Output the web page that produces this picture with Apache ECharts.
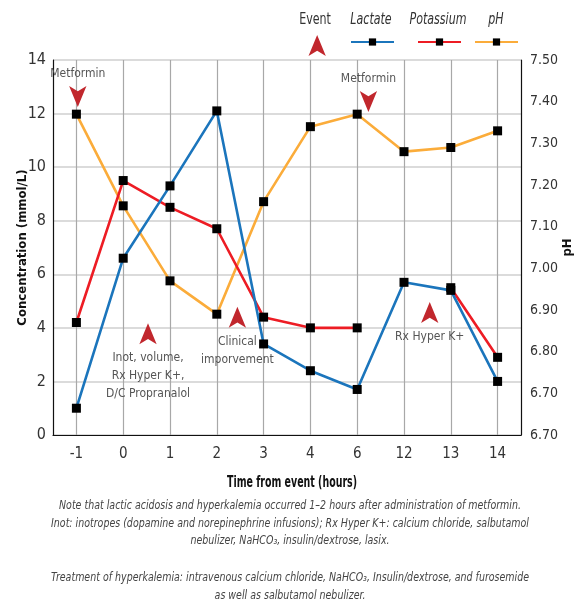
<!DOCTYPE html>
<html><head><meta charset="utf-8">
<script src="https://cdn.jsdelivr.net/npm/echarts@6/dist/echarts.min.js"></script>
<style>html,body{margin:0;padding:0;background:#fff}#c{width:578px;height:605px}</style>
</head><body><div id="c"></div>
<script>
var categories = ['-1','0','1','2','3','4','6','12','13','14'];
var lactate   = [1.0, 6.6, 9.3, 12.1, 3.4, 2.4, 1.7, 5.7, 5.4, 2.0];
var potassium = [4.2, 9.5, 8.5, 7.7, 4.4, 4.0, 4.0, null, 5.5, 2.9];
var pH        = [7.37, 7.15, 6.97, 6.89, 7.16, 7.34, 7.37, 7.28, 7.29, 7.33];
var rightTickLabels = ['6.70','6.70','6.80','6.90','7.00','7.10','7.20','7.30','7.40','7.50'];
// events: position in category-index units, level of the arrow tip, label, pointing down?
var eventPos   = [0.03, 1.53, 3.44, 6.24, 7.55];
var eventLevel = [12.25, 4.17, 4.79, 12.06, 4.97];
var eventText  = ['Metformin', 'Inot, volume,\nRx Hyper K+,\nD/C Propranalol', 'Clinical\nimporvement', 'Metformin', 'Rx Hyper K+'];
var eventDown  = [true, false, false, true, false];
var legendNames = ['Event', 'Lactate', 'Potassium', 'pH'];
var notes = [
  'Note that lactic acidosis and hyperkalemia occurred 1\u20132 hours after administration of metformin.',
  'Inot: inotropes (dopamine and norepinephrine infusions); Rx Hyper K+: calcium chloride, salbutamol',
  'nebulizer, NaHCO\u2083, insulin/dextrose, lasix.',
  'Treatment of hyperkalemia: intravenous calcium chloride, NaHCO\u2083, Insulin/dextrose, and furosemide',
  'as well as salbutamol nebulizer.'
];

var FONT = "'DejaVu Sans Condensed', 'Liberation Sans Narrow', sans-serif";
var BLUE = '#1b75bc', RED = '#ed1c24', ORANGE = '#fbac3a', ARROW = '#c1272d';

var chart = echarts.init(document.getElementById('c'), null, {renderer: 'canvas'});

function lineSeries(name, data, color, yIndex) {
  return {
    name: name, type: 'line', data: data, xAxisIndex: 0, yAxisIndex: yIndex,
    symbol: 'rect', symbolSize: 9, connectNulls: false,
    lineStyle: {color: color, width: 2.6},
    itemStyle: {color: '#000'},
    emphasis: {disabled: true}
  };
}

var eventData = eventPos.map(function (x, i) {
  return {
    value: [x, eventLevel[i]],
    symbolRotate: eventDown[i] ? 180 : 0,
    label: {
      show: true, formatter: eventText[i],
      position: eventDown[i] ? 'top' : 'bottom',
      distance: eventDown[i] ? 3.5 : 5
    }
  };
});

var legendCenters = [315, 371, 438, 496];
var legendLineLeft = [350, 417, 474];
var noteY = [506, 524, 541, 578, 596];

function emptyFmt() { return ''; }

var option = {
  animation: false,
  textStyle: {fontFamily: FONT},
  grid: {left: 53, right: 57, top: 60, bottom: 170, containLabel: false, outerBoundsMode: 'none'},
  legend: [
    {data: ['Event'], left: 308.5, top: 24.5, itemWidth: 13, itemHeight: 21, formatter: emptyFmt, itemGap: 0, padding: 0, selectedMode: false},
    {data: ['Lactate'], left: legendLineLeft[0], top: 37.5, itemWidth: 43, itemHeight: 9, formatter: emptyFmt, itemGap: 0, padding: 0, selectedMode: false},
    {data: ['Potassium'], left: legendLineLeft[1], top: 37.5, itemWidth: 43, itemHeight: 9, formatter: emptyFmt, itemGap: 0, padding: 0, selectedMode: false},
    {data: ['pH'], left: legendLineLeft[2], top: 37.5, itemWidth: 43, itemHeight: 9, formatter: emptyFmt, itemGap: 0, padding: 0, selectedMode: false}
  ],
  xAxis: [
    {
      type: 'category', data: categories, boundaryGap: true,
      axisLine: {onZero: false, lineStyle: {color: '#111', width: 1.2}},
      axisTick: {show: false},
      axisLabel: {fontSize: 15, color: '#333', margin: 12, fontFamily: FONT},
      splitLine: {show: true, alignWithLabel: true, lineStyle: {color: '#a8a8a8', width: 1.2}}
    },
    {type: 'value', min: -0.5, max: 9.5, show: false}
  ],
  yAxis: [
    {
      type: 'value', min: 0, max: 14, interval: 2, position: 'left',
      name: 'Concentration (mmol/L)', nameLocation: 'middle', nameGap: 24, nameRotate: 90, nameMoveOverlap: false,
      nameTextStyle: {fontSize: 13, fontWeight: 'bold', color: '#111', fontFamily: FONT},
      axisLine: {show: true, onZero: false, lineStyle: {color: '#111', width: 1.2}},
      axisTick: {show: false},
      axisLabel: {fontSize: 16, color: '#333', margin: 7, fontFamily: FONT},
      splitLine: {show: true, lineStyle: {color: '#cfcfcf', width: 1.5}}
    },
    {
      type: 'value', min: 6.6, max: 7.5, interval: 0.1, position: 'right',
      name: 'pH', nameLocation: 'middle', nameGap: 40, nameRotate: 90, nameMoveOverlap: false,
      nameTextStyle: {fontSize: 13, fontWeight: 'bold', color: '#111', fontFamily: FONT},
      axisLine: {show: true, onZero: false, lineStyle: {color: '#111', width: 1.2}},
      axisTick: {show: false},
      axisLabel: {fontSize: 14, color: '#333', margin: 9, fontFamily: FONT,
        formatter: function (v) { return rightTickLabels[Math.round((v - 6.6) * 10)]; }},
      splitLine: {show: false}
    }
  ],
  series: [
    {
      name: 'Event', type: 'scatter', xAxisIndex: 1, yAxisIndex: 0,
      symbol: 'arrow', symbolSize: [13, 21], symbolRotate: 0,
      itemStyle: {color: ARROW, opacity: 1},
      label: {color: '#555', fontSize: 12, lineHeight: 18, fontFamily: FONT, align: 'center'},
      data: eventData, z: 5, emphasis: {disabled: true}
    },
    lineSeries('pH', pH, ORANGE, 1),
    lineSeries('Potassium', potassium, RED, 0),
    lineSeries('Lactate', lactate, BLUE, 0)
  ],
  graphic: legendNames.map(function (n, i) {
    return {type: 'text', x: legendCenters[i], y: 20, scaleX: 0.82, silent: true,
      style: {text: n, fill: '#333', font: (i === 0 ? 'normal ' : 'italic ') + '15px ' + FONT,
        textAlign: 'center', textVerticalAlign: 'middle'}};
  }).concat([
    {type: 'text', x: 292, y: 483, scaleX: 0.7, silent: true,
      style: {text: 'Time from event (hours)', fill: '#111', font: 'bold 15px ' + FONT, textAlign: 'center', textVerticalAlign: 'middle'}}
  ]).concat(notes.map(function (t, i) {
    return {type: 'text', x: 290, y: noteY[i], scaleX: 0.81, silent: true,
      style: {text: t, fill: '#444', font: 'italic 13px ' + FONT, textAlign: 'center', textVerticalAlign: 'middle'}};
  }))
};
chart.setOption(option);
</script></body></html>
